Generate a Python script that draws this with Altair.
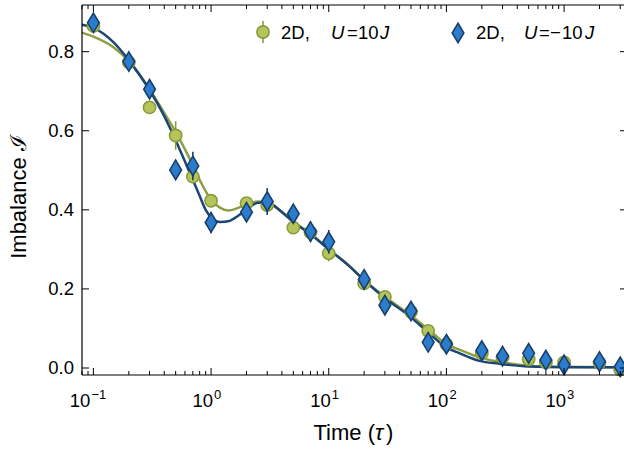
import altair as alt
import pandas as pd

# ---------------- data ----------------
t_pts = [0.1, 0.2, 0.3, 0.5, 0.7, 1, 2, 3, 5, 7, 10, 20, 30, 50, 70, 100,
         200, 300, 500, 700, 1000, 2000, 3000]
g_vals = [0.865, 0.773, 0.659, 0.588, 0.484, 0.423, 0.417, 0.412, 0.355, 0.343,
          0.290, 0.214, 0.180, 0.142, 0.094, 0.060, 0.037, 0.027, 0.022, 0.014,
          0.014, 0.013, -0.004]
g_err = [0.012, 0.012, 0.012, 0.036, 0.015, 0.015, 0.012, 0.012, 0.012, 0.015,
         0.020, 0.012, 0.012, 0.012, 0.012, 0.010, 0.010, 0.010, 0.010, 0.010,
         0.010, 0.010, 0.010]
b_vals = [0.873, 0.775, 0.705, 0.501, 0.511, 0.368, 0.394, 0.421, 0.390, 0.345,
          0.319, 0.224, 0.159, 0.144, 0.065, 0.060, 0.044, 0.030, 0.037, 0.020,
          0.008, 0.016, 0.003]
b_err = [0.020, 0.015, 0.015, 0.025, 0.036, 0.027, 0.020, 0.034, 0.020, 0.025,
         0.030, 0.020, 0.020, 0.020, 0.020, 0.015, 0.015, 0.015, 0.020, 0.015,
         0.015, 0.015, 0.015]

fit_t = [0.08, 0.1, 0.15, 0.2, 0.3, 0.4, 0.5, 0.6, 0.7, 0.8, 0.9, 1.0, 1.2, 1.4,
         1.7, 2.0, 2.5, 3.0, 4.0, 5, 7, 10, 15, 20, 30, 50, 70, 100, 130, 190,
         280, 500, 1000, 3230]
g_fit = [0.848, 0.838, 0.810, 0.776, 0.705, 0.645, 0.597, 0.553, 0.513, 0.476,
         0.447, 0.425, 0.405, 0.398, 0.405, 0.414, 0.421, 0.417, 0.395, 0.370,
         0.340, 0.300, 0.258, 0.222, 0.180, 0.133, 0.098, 0.060, 0.046, 0.027,
         0.016, 0.006, 0.003, 0.002]
b_fit = [0.868, 0.860, 0.822, 0.778, 0.703, 0.637, 0.576, 0.522, 0.476, 0.435,
         0.400, 0.381, 0.369, 0.371, 0.385, 0.401, 0.418, 0.419, 0.394, 0.369,
         0.338, 0.300, 0.257, 0.222, 0.177, 0.128, 0.090, 0.052, 0.037, 0.018,
         0.011, 0.004, 0.002, 0.002]

x_major = [0.1, 1, 10, 100, 1000]
x_exps = ["\u22121", "0", "1", "2", "3"]
x_minor = [0.08, 0.09, 0.2, 0.3, 0.4, 0.5, 0.6, 0.7, 0.8, 0.9,
           2, 3, 4, 5, 6, 7, 8, 9, 20, 30, 40, 50, 60, 70, 80, 90,
           200, 300, 400, 500, 600, 700, 800, 900, 2000, 3000]
y_major = [0.0, 0.2, 0.4, 0.6, 0.8]
y_labels = ["0.0", "0.2", "0.4", "0.6", "0.8"]

# ---------------- style ----------------
W, H = 542, 370
FONT = "Liberation Sans"
GFILL, GSTROKE, GLINE = "#b5c55c", "#8a9b3c", "#8e9e45"
BFILL, BSTROKE, BLINE = "#2b7dcb", "#183f6e", "#1c4674"
DIAMOND = "M0,-1L0.6,0L0,1L-0.6,0Z"
GSIZE, BSIZE = 150, 380

xs = alt.Scale(type="log", domain=[0.08, 3230], nice=False)
ys = alt.Scale(domain=[-0.0177, 0.918], nice=False, zero=False)

pts = pd.DataFrame({"t": t_pts, "g": g_vals, "ge": g_err, "b": b_vals, "be": b_err})
fit = pd.DataFrame({"t": fit_t, "g": g_fit, "b": b_fit})
dummy = pd.DataFrame({"k": [0]})

X = alt.X("t:Q", scale=xs, axis=None)

def Y(f):
    return alt.Y(f, scale=ys, axis=None)

green_line = alt.Chart(fit).mark_line(color=GLINE, strokeWidth=2.5, interpolate="monotone").encode(
    x=X, y=Y("g:Q"))
blue_line = alt.Chart(fit).mark_line(color=BLINE, strokeWidth=2.5, interpolate="monotone").encode(
    x=X, y=Y("b:Q"))

green_err = alt.Chart(pts).transform_calculate(
    lo="datum.g - datum.ge", hi="datum.g + datum.ge"
).mark_rule(color=GSTROKE, strokeWidth=1.6).encode(x=X, y=Y("lo:Q"), y2="hi:Q")
green_pts = alt.Chart(pts).mark_point(
    shape="circle", size=GSIZE, fill=GFILL, stroke=GSTROKE, strokeWidth=1.6,
    opacity=1, fillOpacity=1).encode(x=X, y=Y("g:Q"))

blue_err = alt.Chart(pts).transform_calculate(
    lo="datum.b - datum.be", hi="datum.b + datum.be"
).mark_rule(color=BSTROKE, strokeWidth=1.6).encode(x=X, y=Y("lo:Q"), y2="hi:Q")
blue_pts = alt.Chart(pts).mark_point(
    shape=DIAMOND, size=BSIZE, fill=BFILL, stroke=BSTROKE, strokeWidth=1.6,
    opacity=1, fillOpacity=1).encode(x=X, y=Y("b:Q"))

# ---------------- frame and inward ticks ----------------
frame = [
    alt.Chart(dummy).mark_rule(color="black", strokeWidth=1.2).encode(
        x=alt.value(0), y=alt.value(0), y2=alt.value(H)),
    alt.Chart(dummy).mark_rule(color="black", strokeWidth=1.2).encode(
        x=alt.value(0), x2=alt.value(W + 4), y=alt.value(0)),
    alt.Chart(dummy).mark_rule(color="black", strokeWidth=1.2).encode(
        x=alt.value(0), x2=alt.value(W + 4), y=alt.value(H)),
]
xmaj = pd.DataFrame({"t": x_major, "e": x_exps})
xmin = pd.DataFrame({"t": x_minor})
ymaj = pd.DataFrame({"v": y_major, "lab": y_labels})

def xticks(df, y0, y1):
    return alt.Chart(df).mark_rule(color="black", strokeWidth=1).encode(
        x=X, y=alt.value(y0), y2=alt.value(y1))

def yticks(x0, x1):
    return alt.Chart(ymaj).mark_rule(color="black", strokeWidth=1).encode(
        y=Y("v:Q"), x=alt.value(x0), x2=alt.value(x1))

ticks = [
    xticks(xmaj, H, H - 7), xticks(xmin, H, H - 4),
    xticks(xmaj, 0, 7), xticks(xmin, 0, 4),
    yticks(0, 7), yticks(W - 4, W + 4),
]

ylabels = alt.Chart(ymaj).mark_text(
    font=FONT, fontSize=18.5, align="right", baseline="middle", color="black"
).encode(y=Y("v:Q"), x=alt.value(-8), text="lab:N")

# x tick labels 10^n
lab_neg = alt.Chart(xmaj).transform_filter("datum.t < 0.5")
lab_pos = alt.Chart(xmaj).transform_filter("datum.t > 0.5")
xlabels = [
    lab_neg.mark_text(text="10", font=FONT, fontSize=18.5, align="right", baseline="alphabetic", dx=-3).encode(
        x=X, y=alt.value(H + 32)),
    lab_neg.mark_text(font=FONT, fontSize=13, align="left", baseline="alphabetic", dx=-2).encode(
        x=X, y=alt.value(H + 24), text="e:N"),
    lab_pos.mark_text(text="10", font=FONT, fontSize=18.5, align="right", baseline="alphabetic", dx=2).encode(
        x=X, y=alt.value(H + 32)),
    lab_pos.mark_text(font=FONT, fontSize=13, align="left", baseline="alphabetic", dx=3).encode(
        x=X, y=alt.value(H + 24), text="e:N"),
]

def txt(s, x, y, size=18.5, italic=False, align="left", angle=0, baseline="alphabetic"):
    kw = dict(text=s, font=FONT, fontSize=size, align=align, baseline=baseline, color="black")
    if italic:
        kw["fontStyle"] = "italic"
    if angle:
        kw["angle"] = angle
    return alt.Chart(dummy).mark_text(**kw).encode(x=alt.value(x), y=alt.value(y))

titles = [
    txt("Time (", 293, 435, size=22, align="right"),
    txt("\u03c4", 293, 435, size=22, italic=True),
    txt(")", 304, 435, size=22),
    txt("Imbalance \u2110", -63, 192, size=22, align="center", angle=270, baseline="middle"),
]

# legend
leg_g_bar = alt.Chart(dummy).mark_rule(color=GSTROKE, strokeWidth=1.6).encode(
    x=alt.value(181), y=alt.value(16), y2=alt.value(38))
leg_g_pt = alt.Chart(dummy).mark_point(
    shape="circle", size=GSIZE, fill=GFILL, stroke=GSTROKE, strokeWidth=1.6,
    opacity=1, fillOpacity=1).encode(x=alt.value(181), y=alt.value(27))
leg_b_pt = alt.Chart(dummy).mark_point(
    shape=DIAMOND, size=BSIZE, fill=BFILL, stroke=BSTROKE, strokeWidth=1.6,
    opacity=1, fillOpacity=1).encode(x=alt.value(376), y=alt.value(28))
legend = [
    leg_g_bar, leg_g_pt,
    txt("2D,", 199, 34), txt("U", 249, 34, italic=True), txt("=", 265, 34),
    txt("10", 276, 34), txt("J", 298, 34, italic=True),
    leg_b_pt,
    txt("2D,", 394, 34), txt("U", 442, 34, italic=True), txt("=", 457, 34),
    txt("\u2212", 468, 34), txt("10", 480, 34), txt("J", 503, 34, italic=True),
]

chart = alt.layer(
    green_line, blue_line, green_err, green_pts, blue_err, blue_pts,
    *frame, *ticks, ylabels, *xlabels, *titles, *legend
).properties(
    width=W, height=H,
    padding={"left": 82, "top": 5, "right": 0, "bottom": 77},
    autosize=alt.AutoSizeParams(type="none"),
).configure_view(stroke=None)

chart.save("out.html", embed_options={"renderer": "svg", "actions": False})
